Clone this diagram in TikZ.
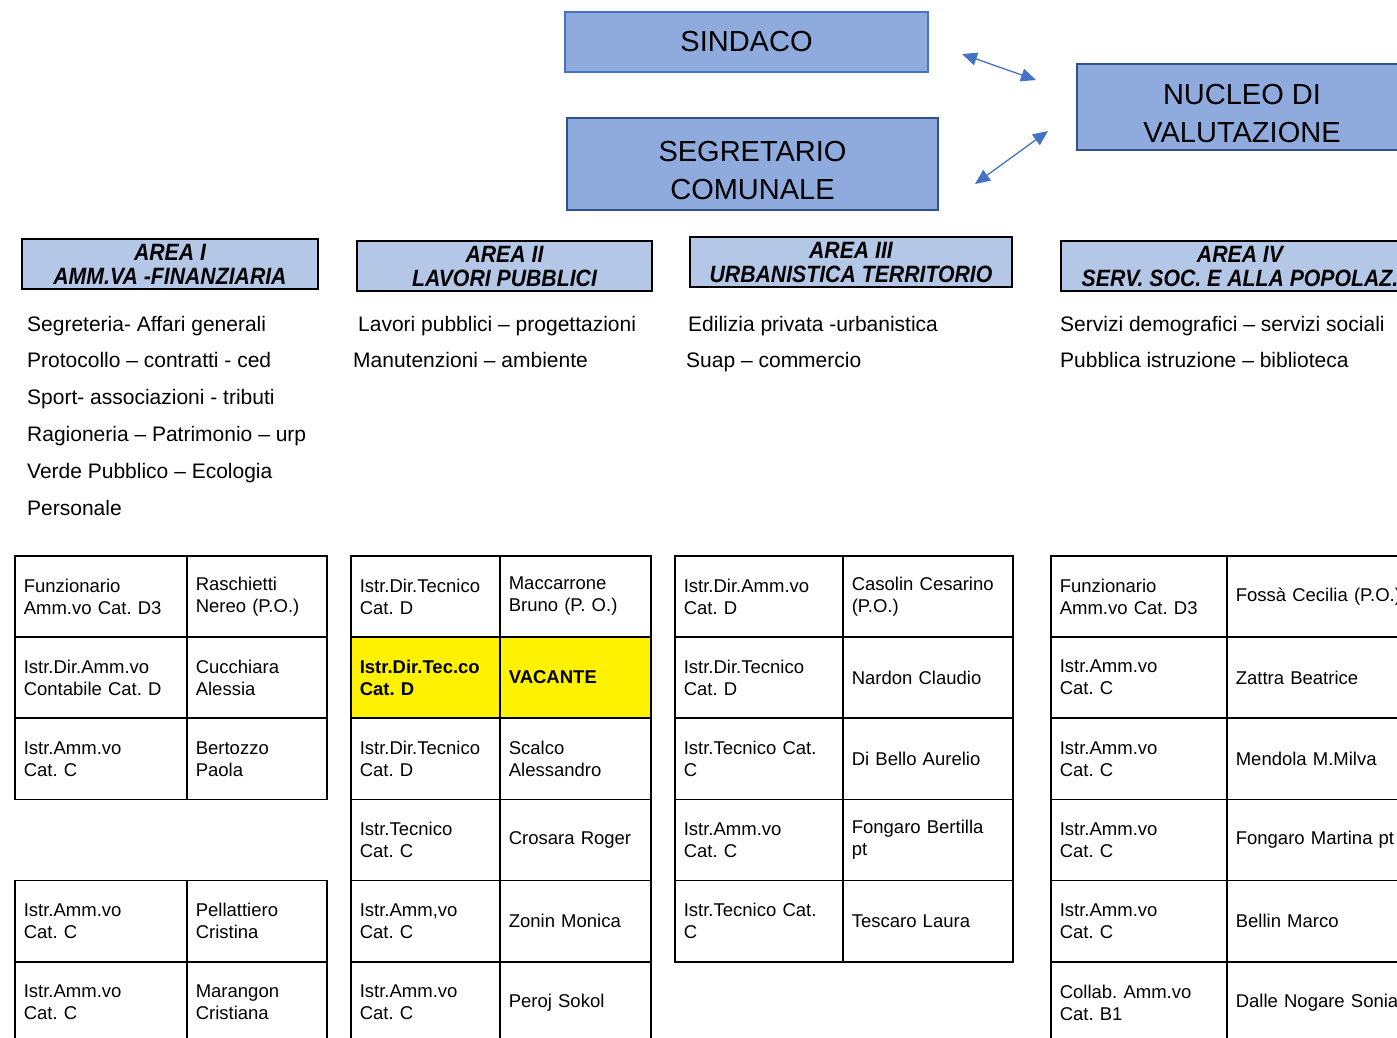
\documentclass[tikz,border=0pt]{standalone}
\usepackage{fontspec}
\setmainfont{Liberation Sans}
\newfontfamily\headfont[FakeStretch=0.9]{Liberation Sans}
\usetikzlibrary{arrows.meta}
\definecolor{boxblue}{HTML}{8FAADC}
\definecolor{headblue}{HTML}{B4C7E7}
\definecolor{lineblue}{HTML}{4472C4}
\definecolor{darkblue}{HTML}{2F528F}
\frenchspacing

\begin{document}
\begin{tikzpicture}[x=1pt,y=-1pt,
    top/.style={draw=darkblue, line width=2pt, fill=boxblue, align=center,
      font=\fontsize{29}{38}\selectfont},
    area/.style={draw, line width=2pt, fill=headblue, align=center, inner sep=0pt,
      font=\headfont\bfseries\itshape\fontsize{23.6}{24}\selectfont},
    item/.style={anchor=base west, inner sep=0pt, font=\fontsize{21}{25}\selectfont},
    cell/.style={draw, line width=1.6pt, anchor=north west, minimum height=81.2pt,
      inner xsep=9pt, align=left, font=\fontsize{18.5}{22}\selectfont},
    dbl/.style={{Triangle[length=15pt,width=13pt]}-{Triangle[length=15pt,width=13pt]},
      line width=1.3pt, draw=lineblue}]
    \useasboundingbox (0,0) rectangle (1397,1037);
    \clip (0,0) rectangle (1397,1037);

    % vertici
    \node[top, draw=lineblue, minimum width=363pt, minimum height=60pt] (sindaco) at (746.5,42) {SINDACO};
    \node[top, minimum width=371pt, minimum height=92pt] (segretario) at (752.5,164) {\rule{0pt}{34pt}SEGRETARIO\\COMUNALE};
    \node[top, minimum width=330pt, minimum height=86pt] (nucleo) at (1242,107) {\rule{0pt}{34pt}NUCLEO DI\\VALUTAZIONE};
    \coordinate (s1) at (962,54);
    \coordinate (n1) at (1036,80);
    \coordinate (s2) at (975,184);
    \coordinate (n2) at (1048,131);
    \draw[dbl] (s1) -- (n1);
    \draw[dbl] (s2) -- (n2);

    % aree
    \node[area, minimum width=296pt, minimum height=50pt] (area1) at (170,264) {AREA I\\AMM.VA -FINANZIARIA};
    \node[area, minimum width=295pt, minimum height=50pt] (area2) at (504.5,266) {AREA II\\LAVORI PUBBLICI};
    \node[area, minimum width=322pt, minimum height=50pt] (area3) at (851,262) {AREA III\\URBANISTICA TERRITORIO};
    \node[area, minimum width=358pt, minimum height=50pt] (area4) at (1240,266) {AREA IV\\SERV. SOC. E ALLA POPOLAZ.};

    % servizi
    \foreach \t [count=\i] in {Segreteria- Affari generali, Protocollo – contratti - ced,
        Sport- associazioni - tributi, Ragioneria – Patrimonio – urp,
        Verde Pubblico – Ecologia, Personale}
      \node[item] (la\i) at (27,294.2+36.8*\i) {\t};
    \node[item] (lb1) at (358,331) {Lavori pubblici – progettazioni};
    \node[item] (lb2) at (353,367) {Manutenzioni – ambiente};
    \node[item] (lc1) at (688,331) {Edilizia privata -urbanistica};
    \node[item] (lc2) at (686,367) {Suap – commercio};
    \node[item] (ld1) at (1060,331) {Servizi demografici – servizi sociali};
    \node[item] (ld2) at (1060,367) {Pubblica istruzione – biblioteca};

    % personale area I
    \foreach \r/\ja/\nb in {0/{Funzionario\\Amm.vo Cat. D3}/{Raschietti\\Nereo (P.O.)},
        1/{Istr.Dir.Amm.vo\\Contabile Cat. D}/{Cucchiara\\Alessia},
        2/{Istr.Amm.vo\\Cat. C}/{Bertozzo\\Paola},
        4/{Istr.Amm.vo\\Cat. C}/{Pellattiero\\Cristina},
        5/{Istr.Amm.vo\\Cat. C}/{Marangon\\Cristiana}} {
      \node[cell, minimum width=172pt, text width=154pt] (a1r\r) at (14,555+81.2*\r) {\ja};
      \node[cell, minimum width=140pt, text width=122pt] (b1r\r) at (186,555+81.2*\r) {\nb};
    }

    % personale area II
    \foreach \r/\c/\ja/\nb in {0/white/{Istr.Dir.Tecnico\\Cat. D}/{Maccarrone\\Bruno (P. O.)},
        1/yellow/{\bfseries Istr.Dir.Tec.co\\Cat. D}/{\bfseries VACANTE},
        2/white/{Istr.Dir.Tecnico\\Cat. D}/{Scalco\\Alessandro},
        3/white/{Istr.Tecnico\\Cat. C}/{Crosara Roger},
        4/white/{Istr.Amm,vo\\Cat. C}/{Zonin Monica},
        5/white/{Istr.Amm.vo\\Cat. C}/{Peroj Sokol}} {
      \node[cell, fill=\c, minimum width=149pt, text width=131pt] (a2r\r) at (350,555+81.2*\r) {\ja};
      \node[cell, fill=\c, minimum width=151pt, text width=133pt] (b2r\r) at (499,555+81.2*\r) {\nb};
    }

    % personale area III
    \foreach \r/\ja/\nb in {0/{Istr.Dir.Amm.vo\\Cat. D}/{Casolin Cesarino\\(P.O.)},
        1/{Istr.Dir.Tecnico\\Cat. D}/{Nardon Claudio},
        2/{Istr.Tecnico Cat.\\C}/{Di Bello Aurelio},
        3/{Istr.Amm.vo\\Cat. C}/{Fongaro Bertilla\\pt},
        4/{Istr.Tecnico Cat.\\C}/{Tescaro Laura}} {
      \node[cell, minimum width=168pt, text width=150pt] (a3r\r) at (674,555+81.2*\r) {\ja};
      \node[cell, minimum width=170pt, text width=152pt] (b3r\r) at (842,555+81.2*\r) {\nb};
    }

    % personale area IV
    \foreach \r/\ja/\nb in {0/{Funzionario\\Amm.vo Cat. D3}/{Fossà Cecilia (P.O.)},
        1/{Istr.Amm.vo\\Cat. C}/{Zattra Beatrice},
        2/{Istr.Amm.vo\\Cat. C}/{Mendola M.Milva},
        3/{Istr.Amm.vo\\Cat. C}/{Fongaro Martina pt},
        4/{Istr.Amm.vo\\Cat. C}/{Bellin Marco},
        5/{Collab. Amm.vo\\Cat. B1}/{Dalle Nogare Sonia}} {
      \node[cell, minimum width=176pt, text width=158pt] (a4r\r) at (1050,555+81.2*\r) {\ja};
      \node[cell, minimum width=200pt, text width=182pt] (b4r\r) at (1226,555+81.2*\r) {\nb};
    }
\end{tikzpicture}
\end{document}
